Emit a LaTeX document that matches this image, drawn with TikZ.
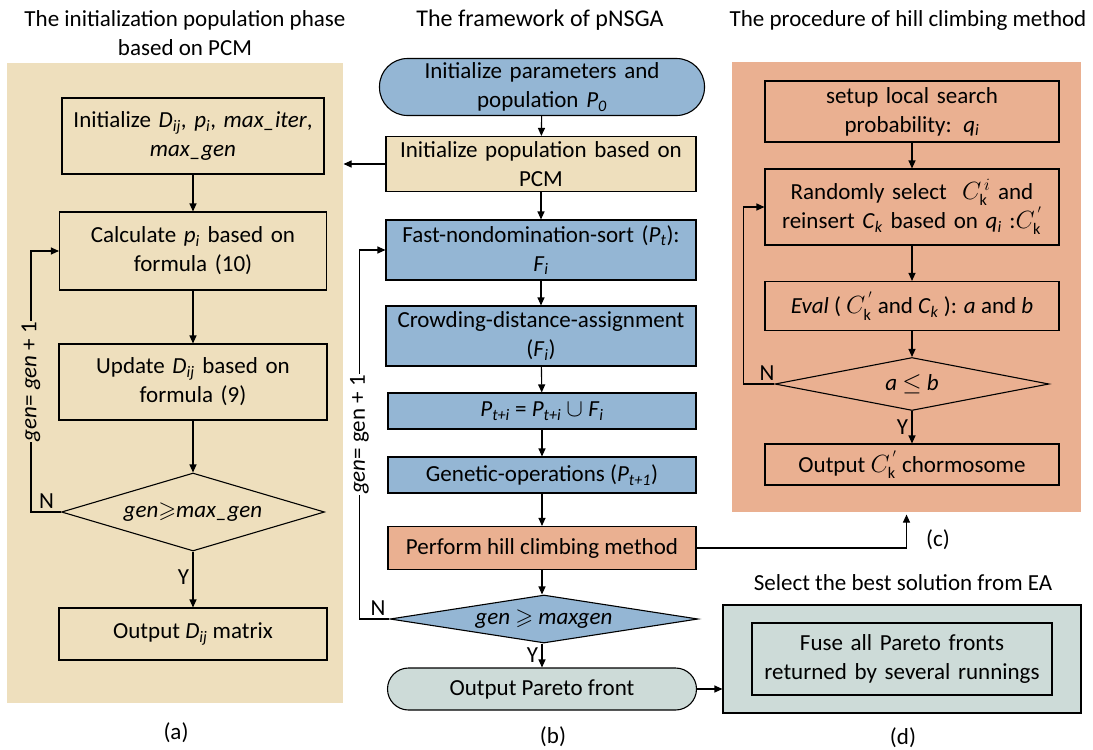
\documentclass[tikz,border=0pt]{standalone}
\usepackage{amsmath}
\usepackage{amssymb}
\usepackage{fontspec}
\setmainfont{Carlito}
\usepackage{tikz}
\usetikzlibrary{shapes.geometric,arrows.meta}

\definecolor{pcmtan}{RGB}{238,223,189}
\definecolor{nsgablue}{RGB}{148,182,212}
\definecolor{hillorange}{RGB}{234,176,145}
\definecolor{paretogreen}{RGB}{205,219,216}

\newcommand{\isub}[2]{\textit{#1}\textsubscript{\textit{#2}}}

\tikzset{
  box/.style={draw, line width=1.1pt, align=center, inner sep=2pt},
  terminal/.style={box, rounded corners=#1},
  decision/.style={draw, line width=1.1pt, shape=diamond, inner sep=0pt},
  panel/.style={inner sep=0pt, draw=none},
  >={Triangle[length=8pt,width=7pt]}
}

\begin{document}
\begin{tikzpicture}[x=1pt, y=-1pt, font=\fontsize{23}{29}\selectfont, line width=1.1pt]
            \useasboundingbox (0,0) rectangle (1093,750);

            % (a) initialization with PCM
            \node[panel, fill=pcmtan, minimum width=336, minimum height=640] (panela) at (175,383) {};
            \node[align=center] (titlea) at (185,33) {The initialization population phase\\based on PCM};
            \node[box, minimum width=260, minimum height=76, text width=258] (initdij) at (193,136) {Initialize \isub{D}{ij}, \isub{p}{i}, \textit{max\_iter},\\\textit{max\_gen}};
            \node[box, minimum width=267, minimum height=78, text width=255] (calcp) at (193,251) {Calculate \isub{p}{i} based on\\formula (10)};
            \node[box, minimum width=268, minimum height=76, text width=255] (upddij) at (193,382) {Update \isub{D}{ij} based on\\formula (9)};
            \node[decision, minimum width=263, minimum height=78, aspect=3.4] (gencheck) at (193,512) {\textit{gen}$\geqslant$\textit{max\_gen}};
            \node[box, minimum width=268, minimum height=52] (outdij) at (193,634) {Output \isub{D}{ij} matrix};
            \node (laba) at (176,733) {(a)};

            \draw[->] (initdij) -- (calcp);
            \draw[->] (calcp) -- (upddij);
            \draw[->] (upddij) -- (gencheck);
            \draw[->] (gencheck) -- node[left, pos=0.45]{Y} (outdij);
            \draw[->] (gencheck.west) node[above left, xshift=-3pt]{N} -- ++(-30,0) |- node[pos=0.25, rotate=90, fill=pcmtan, inner sep=1pt]{\textit{gen}= \textit{gen} + 1} (calcp.west);

            % (b) pNSGA
            \node[font=\fontsize{24}{29}\selectfont] (titleb) at (540,20) {The framework of pNSGA};
            \node[terminal=28pt, fill=nsgablue, minimum width=325, minimum height=57, text width=290] (initpop) at (542,87) {Initialize parameters and\\population \isub{P}{0}};
            \node[box, fill=pcmtan, minimum width=310, minimum height=55, text width=300] (initpcm) at (541,164) {Initialize population based on\\PCM};
            \node[box, fill=nsgablue, minimum width=310, minimum height=60, text width=300] (fastsort) at (541,250) {Fast-nondomination-sort (\isub{P}{t}):\\\isub{F}{i}};
            \node[box, fill=nsgablue, minimum width=310, minimum height=60, text width=300] (crowding) at (541,336) {Crowding-distance-assignment\\(\isub{F}{i})};
            \node[box, fill=nsgablue, minimum width=308, minimum height=36] (merge) at (542,411) {\isub{P}{t+i} = \isub{P}{t+i} $\cup$ \isub{F}{i}};
            \node[box, fill=nsgablue, minimum width=308, minimum height=36] (geneop) at (542,475) {Genetic-operations (\isub{P}{t+1})};
            \node[box, fill=hillorange, minimum width=308, minimum height=43] (hillclimb) at (542,548) {Perform hill climbing method};
            \node[decision, fill=nsgablue, minimum width=308, minimum height=48, aspect=6.4] (maxgen) at (544,619) {\textit{gen} $\geqslant$ \textit{maxgen}};
            \node[terminal=21pt, fill=paretogreen, minimum width=309, minimum height=42] (outpareto) at (542,689) {Output Pareto front};
            \node (labb) at (553,737) {(b)};

            \draw[->] (initpop) -- (initpcm);
            \draw[->] (initpcm) -- (fastsort);
            \draw[->] (fastsort) -- (crowding);
            \draw[->] (crowding) -- (merge);
            \draw[->] (merge) -- (geneop);
            \draw[->] (geneop) -- (hillclimb);
            \draw[->] (hillclimb.south) -- (hillclimb.south |- maxgen.north);
            \draw[->] (hillclimb.south |- maxgen.south) -- node[left]{Y} (outpareto.north);
            \draw[->] (maxgen.west) node[above left]{N} -- ++(-30,0) |- node[pos=0.25, rotate=90, fill=white, inner sep=1pt]{\textit{gen}= gen + 1} (fastsort.west);
            \draw[->] (initpcm.west) -- (initpcm.west -| panela.east);

            % (c) hill climbing
            \node[panel, fill=hillorange, minimum width=349, minimum height=450] (panelc) at (906.5,287) {};
            \node (titlec) at (908,20) {The procedure of hill climbing method};
            \node[box, minimum width=294, minimum height=61, text width=280] (setupq) at (912,111.5) {setup local search\\probability: \isub{q}{i}};
            \node[box, minimum width=294, minimum height=76, text width=285] (randsel) at (912,207) {Randomly select \ $C^{\,i}_{\mathrm{k}}$ and\\reinsert \isub{C}{k} based on \isub{q}{i} :$C^{\,'}_{\mathrm{k}}$};
            \node[box, minimum width=294, minimum height=49] (evalab) at (912,306) {\textit{Eval} ( $C^{\,'}_{\mathrm{k}}$ and \isub{C}{k} ): \textit{a} and \textit{b}};
            \node[decision, minimum width=274, minimum height=53, aspect=5.2] (abcheck) at (912,384) {\textit{a} $\leq$ \textit{b}};
            \node[box, minimum width=294, minimum height=41] (outchrom) at (912,464.5) {Output $C^{\,'}_{\mathrm{k}}$ chormosome};
            \node (labc) at (938,540) {(c)};

            \draw[->] (setupq) -- (randsel);
            \draw[->] (randsel) -- (evalab);
            \draw[->] (evalab) -- (abcheck);
            \draw[->] (abcheck) -- node[left]{Y} (outchrom);
            \draw[->] (abcheck.west) node[above left, xshift=4pt]{N} -- ++(-31,0) |- (randsel.west);
            \draw[->, shorten >=2pt] (hillclimb.east) -| (panelc.south);

            % (d) best solution
            \node (titled) at (903,583) {Select the best solution from EA};
            \node[box, fill=paretogreen, minimum width=358, minimum height=108] (fuseouter) at (902,659) {};
            \node[box, minimum width=300, minimum height=72, text width=290] (fuseinner) at (902,659) {Fuse all Pareto fronts\\returned by several runnings};
            \node (labd) at (903,738) {(d)};

            \draw[->] (outpareto.east) -- (outpareto.east -| fuseouter.west);
        \end{tikzpicture}
\end{document}
